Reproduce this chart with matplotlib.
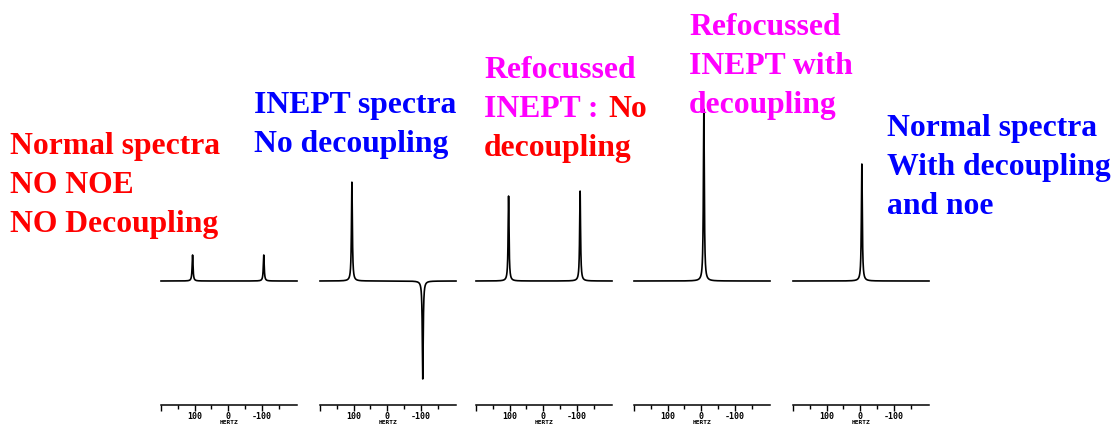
import numpy as np
import matplotlib
matplotlib.use("Agg")
import matplotlib.pyplot as plt
from matplotlib.ticker import FixedLocator

# peak positions (Hz) and heights for the five spectra
peak_shifts = [[106, -106], [105, -106], [103, -110], [-8], [-5]]
peak_heights = [[26, 26], [99, -98], [85, 90], [172], [117]]

tick_values = [200, 100, 0, -100]
tick_labels = ["", "100", "0", "-100"]

# caption lines: (text, colour) per panel
captions = [
    [("Normal spectra", "red"), ("NO NOE", "red"), ("NO Decoupling", "red")],
    [("INEPT spectra", "blue"), ("No decoupling", "blue")],
    [("Refocussed", "magenta"), ("INEPT : ", "magenta"), ("decoupling", "red")],
    [("Refocussed", "magenta"), ("INEPT with", "magenta"), ("decoupling", "magenta")],
    [("Normal spectra", "blue"), ("With decoupling", "blue"), ("and noe", "blue")],
]

W, H = 1117, 425
fig = plt.figure(figsize=(W / 100, H / 100), dpi=100)

panel_left = [161, 320, 476, 634, 793]
panel_width = 136
ax_top, ax_bottom = 100, 405
baseline_px = 281

hz = np.linspace(200, -205, 3000)
hwhm = 1.6

for i in range(5):
    ax = fig.add_axes([panel_left[i] / W, (H - ax_bottom) / H,
                       panel_width / W, (ax_bottom - ax_top) / H])
    ax.set_xlim(200, -205)
    ax.set_ylim(-(ax_bottom - baseline_px), baseline_px - ax_top)
    spec = np.zeros_like(hz)
    for s, h in zip(peak_shifts[i], peak_heights[i]):
        spec += h * hwhm ** 2 / ((hz - s) ** 2 + hwhm ** 2)
    ax.plot(hz, spec, color="black", lw=1.2, clip_on=False)

    for side in ["top", "left", "right"]:
        ax.spines[side].set_visible(False)
    ax.spines["bottom"].set_linewidth(1.1)
    ax.set_yticks([])
    ax.xaxis.set_major_locator(FixedLocator(tick_values))
    ax.set_xticklabels(tick_labels, fontfamily="DejaVu Sans Mono",
                       fontweight="bold")
    ax.xaxis.set_minor_locator(FixedLocator([150, 50, -50, -150]))
    ax.tick_params(axis="x", which="major", direction="out", length=4,
                   width=1, pad=1, labelsize=6)
    ax.tick_params(axis="x", which="minor", direction="out", length=3, width=1)
    ax.set_xlabel("HERTZ", fontsize=4.5, labelpad=-1,
                  fontfamily="DejaVu Sans Mono", fontweight="bold")
    ax.patch.set_visible(False)

# caption placement (pixels: left x, first baseline y)
cap_x = [10, 254, 484, 689, 887]
cap_y = [154, 113, 78, 35, 136]
line_step = 38.8

for i, lines in enumerate(captions):
    for j, (txt, col) in enumerate(lines):
        y = cap_y[i] + j * line_step
        fig.text(cap_x[i] / W, 1 - y / H, txt, color=col, fontsize=22.8,
                 fontfamily="Liberation Serif", fontweight="bold",
                 va="baseline", ha="left")

# red "No" after the magenta "INEPT : " in panel 3
fig.text(608 / W, 1 - (cap_y[2] + line_step) / H, "No", color="red",
         fontsize=22.8, fontfamily="Liberation Serif", fontweight="bold",
         va="baseline", ha="left")

fig.savefig("out.png", dpi=100)
